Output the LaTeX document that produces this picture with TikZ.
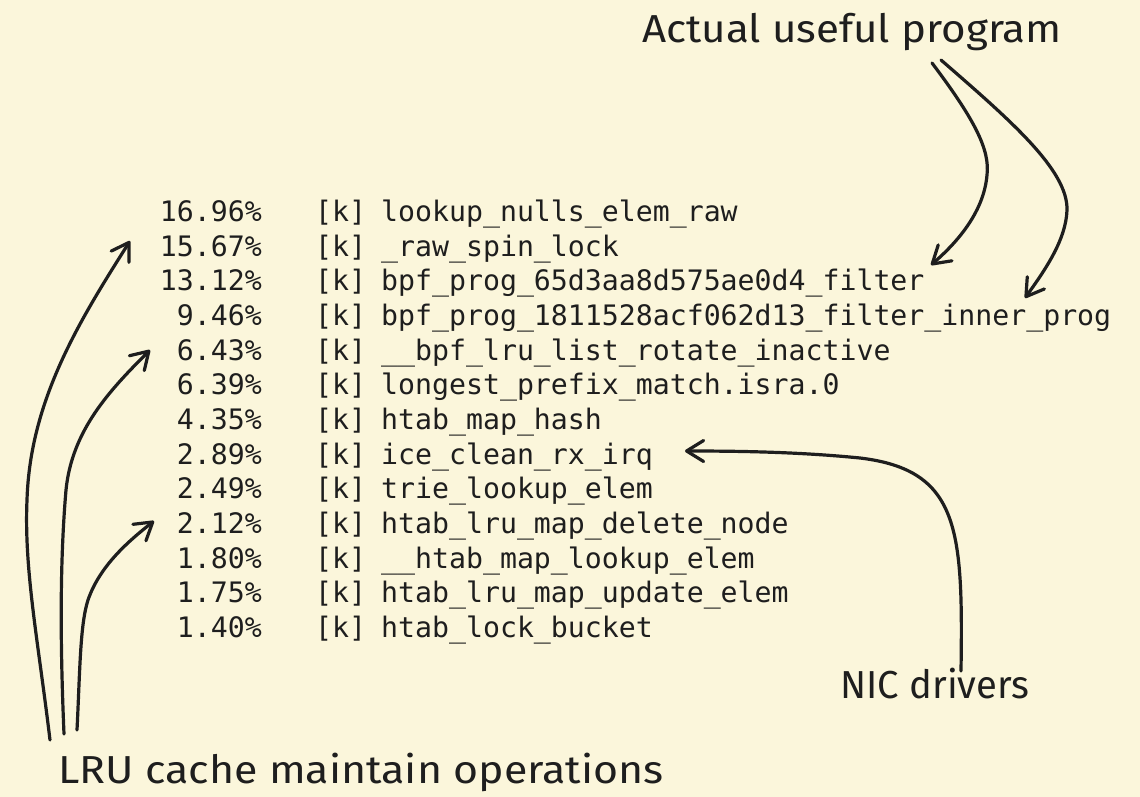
\documentclass[tikz,border=0pt]{standalone}
\usepackage{fontspec}
\setmonofont{DejaVu Sans Mono}
\setsansfont{Fira Sans}
\usetikzlibrary{arrows.meta}
\definecolor{paper}{HTML}{FBF6DB}
\definecolor{ink}{HTML}{1E1E1E}
\begin{document}
\begin{tikzpicture}[x=1pt,y=-1pt,
  row/.style={inner sep=0pt, text=ink, font=\ttfamily\fontsize{28.2}{30}\selectfont},
  hand/.style={inner sep=0pt, text=ink, font=\sffamily\fontsize{39}{42}\selectfont},
  sketch/.style={draw=ink, line width=3.2pt, line cap=round, line join=round,
    -{Straight Barb[length=17pt,width=21pt,round]}}]
% paper
\fill[paper] (0,0) rectangle (1140,797);
\useasboundingbox (0,0) rectangle (1140,797);

% profile rows: percentage, [k] marker, symbol name
\foreach \i/\p/\n in {
  1/16.96/lookup\_nulls\_elem\_raw,
  2/15.67/\_raw\_spin\_lock,
  3/13.12/bpf\_prog\_65d3aa8d575ae0d4\_filter,
  4/9.46/bpf\_prog\_1811528acf062d13\_filter\_inner\_prog,
  5/6.43/\_\_bpf\_lru\_list\_rotate\_inactive,
  6/6.39/longest\_prefix\_match.isra.0,
  7/4.35/htab\_map\_hash,
  8/2.89/ice\_clean\_rx\_irq,
  9/2.49/trie\_lookup\_elem,
  10/2.12/htab\_lru\_map\_delete\_node,
  11/1.80/\_\_htab\_map\_lookup\_elem,
  12/1.75/htab\_lru\_map\_update\_elem,
  13/1.40/htab\_lock\_bucket}
{
  \node[row, anchor=base east] (p\i) at (262, {221.5+(\i-1)*34.67}) {\p\%};
  \node[row, anchor=base west] (k\i) at (315, {221.5+(\i-1)*34.67}) {[k]};
  \node[row, anchor=base west] (n\i) at (381, {221.5+(\i-1)*34.67}) {\n};
}

% annotations
\node[hand, anchor=base] (useful) at (852,43) {\scalebox{1.08}[1]{Actual useful program}};
\node[hand, anchor=base] (nic) at (935,698) {\scalebox{0.98}[1]{NIC drivers}};
\node[hand, anchor=base] (lru) at (361,783) {\scalebox{1.10}[1]{LRU cache maintain operations}};

% arrow ends
\coordinate (l1) at (50,740);
\coordinate (l2) at (64,734);
\coordinate (l3) at (77,730);
\coordinate (t1) at (130,241);
\coordinate (t2) at (150,350);
\coordinate (t3) at (154,521);
\coordinate (ua) at (932,63);
\coordinate (ub) at (941,60);
\coordinate (fa) at (931,265);
\coordinate (fb) at (1025,298);
\coordinate (nc) at (961,671);
\coordinate (ir) at (685,451);

% LRU cache arrows
\draw[sketch] (l1) .. controls (38,640) and (24,570) .. (27,500)
  .. controls (30,400) and (80,320) .. (t1);
\draw[sketch] (l2) .. controls (60,640) and (60,560) .. (66,490)
  .. controls (72,430) and (110,390) .. (t2);
\draw[sketch] (l3) .. controls (80,670) and (80,625) .. (88,600)
  .. controls (100,565) and (130,540) .. (t3);

% useful program arrows
\draw[sketch] (ua) .. controls (975,120) and (990,150) .. (987,175)
  .. controls (984,210) and (960,240) .. (fa);
\draw[sketch] (ub) .. controls (1010,120) and (1068,170) .. (1067,210)
  .. controls (1066,240) and (1045,270) .. (fb);

% NIC driver arrow
\draw[sketch] (nc) .. controls (963,530) and (960,470) .. (860,458)
  .. controls (800,452) and (740,451) .. (ir);
\end{tikzpicture}
\end{document}
